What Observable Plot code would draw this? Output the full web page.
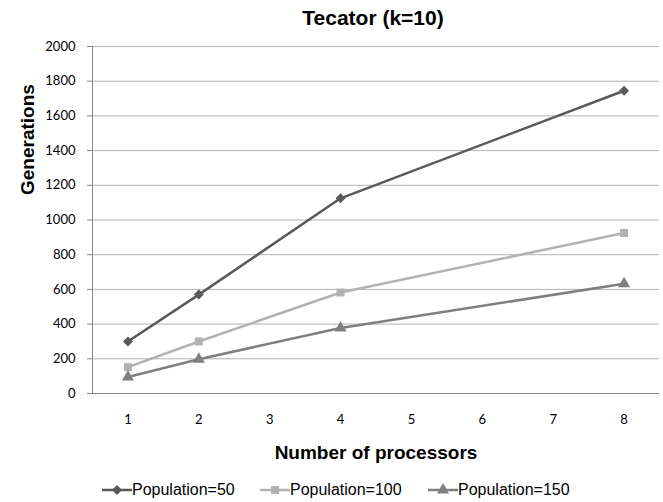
<!DOCTYPE html>
<html>
<head>
<meta charset="utf-8">
<script src="https://cdn.jsdelivr.net/npm/d3@7"></script>
<script src="https://cdn.jsdelivr.net/npm/@observablehq/plot@0.6"></script>
<style>
  html, body { margin: 0; padding: 0; background: #fff; }
  #wrap { width: 663px; height: 502px; position: relative; overflow: hidden; }
  #title { height: 34px; box-sizing: border-box; padding-top: 6px; line-height: 28px;
    padding-left: 83px; text-align: center; font: bold 21px "Liberation Sans", Arial, sans-serif; color: #000; }
  #legend { position: absolute; left: 0; top: 478px; width: 663px; height: 24px;
    font: 16px "Liberation Sans", Arial, sans-serif; color: #000; }
  .item { position: absolute; top: 0; display: flex; align-items: center; height: 24px; white-space: nowrap; }
  .item svg { display: block; margin-right: 0px; }
</style>
</head>
<body>
<div id="wrap">
  <div id="title">Tecator (k=10)</div>
  <div id="chart"></div>
  <div id="legend"></div>
</div>
<script>
const processors = [1, 2, 4, 8];
const seriesNames = ["Population=50", "Population=100", "Population=150"];
const pop50 = [300, 570, 1125, 1745];
const pop100 = [152, 300, 582, 925];
const pop150 = [95, 197, 378, 632];
const yTicks = [0, 200, 400, 600, 800, 1000, 1200, 1400, 1600, 1800, 2000];
const xTicks = [1, 2, 3, 4, 5, 6, 7, 8];
const colors = ["#595959", "#b2b2b2", "#7f7f7f"];
const symbols = ["diamond2", "square", "triangle"];

const seriesValues = [pop50, pop100, pop150];
const rows = seriesNames.flatMap((s, i) =>
  processors.map((p, j) => ({series: s, x: p, y: seriesValues[i][j]})));

const tickFont = "Lato, 'Open Sans', sans-serif";
const boldFont = "'Liberation Sans', Arial, sans-serif";

const chart = Plot.plot({
  width: 663,
  height: 436,
  marginTop: 12,
  marginLeft: 92,
  marginRight: 4,
  marginBottom: 77,
  style: {fontFamily: tickFont, fontSize: "13px", color: "#000", background: "#fff"},
  x: {domain: [0.5, 8.5]},
  y: {domain: [0, 2000]},
  color: {domain: seriesNames, range: colors},
  symbol: {domain: seriesNames, range: symbols},
  marks: [
    Plot.gridY(yTicks.filter(d => d > 0), {stroke: "#b3b3b3", strokeOpacity: 1}),
    Plot.axisY(yTicks, {tickSize: 5, tickPadding: 12, stroke: "#868686", fill: "#000", fontSize: 13,
      tickFormat: d => String(d), label: null}),
    Plot.axisX(xTicks, {tickSize: 0, tickPadding: 21, fill: "#000", fontSize: 13,
      tickFormat: d => String(d), label: null}),
    Plot.ruleY([0], {stroke: "#868686"}),
    Plot.ruleX([0.5], {stroke: "#868686"}),
    Plot.line(rows, {x: "x", y: "y", z: "series", stroke: "series", strokeWidth: 2.5}),
    Plot.dot(rows, {x: "x", y: "y", symbol: "series", fill: "series", r: 4.5, stroke: null}),
    Plot.text(["Generations"], {frameAnchor: "left", dx: -65, dy: -25, rotate: -90, lineAnchor: "middle",
      fontFamily: boldFont, fontWeight: "bold", fontSize: 19, fill: "#000"}),
    Plot.text(["Number of processors"], {frameAnchor: "bottom", dy: 59, dx: 0, lineAnchor: "middle",
      fontFamily: boldFont, fontWeight: "bold", fontSize: 19, fill: "#000"})
  ]
});
document.getElementById("chart").appendChild(chart);

// Legend
const legend = document.getElementById("legend");
const itemLefts = [102, 260, 428];
seriesNames.forEach((name, i) => {
  const item = document.createElement("div");
  item.className = "item";
  item.style.left = itemLefts[i] + "px";
  const svg = d3.create("svg").attr("width", 30).attr("height", 14);
  svg.append("line").attr("x1", 0).attr("x2", 30).attr("y1", 7).attr("y2", 7)
    .attr("stroke", colors[i]).attr("stroke-width", 2.5);
  const symType = [d3.symbolDiamond2, d3.symbolSquare, d3.symbolTriangle][i];
  svg.append("path").attr("transform", "translate(15,7)")
    .attr("d", d3.symbol(symType, Math.PI * 4.5 * 4.5)())
    .attr("fill", colors[i]);
  item.appendChild(svg.node());
  const span = document.createElement("span");
  span.textContent = name;
  item.appendChild(span);
  legend.appendChild(item);
});
</script>
</body>
</html>
